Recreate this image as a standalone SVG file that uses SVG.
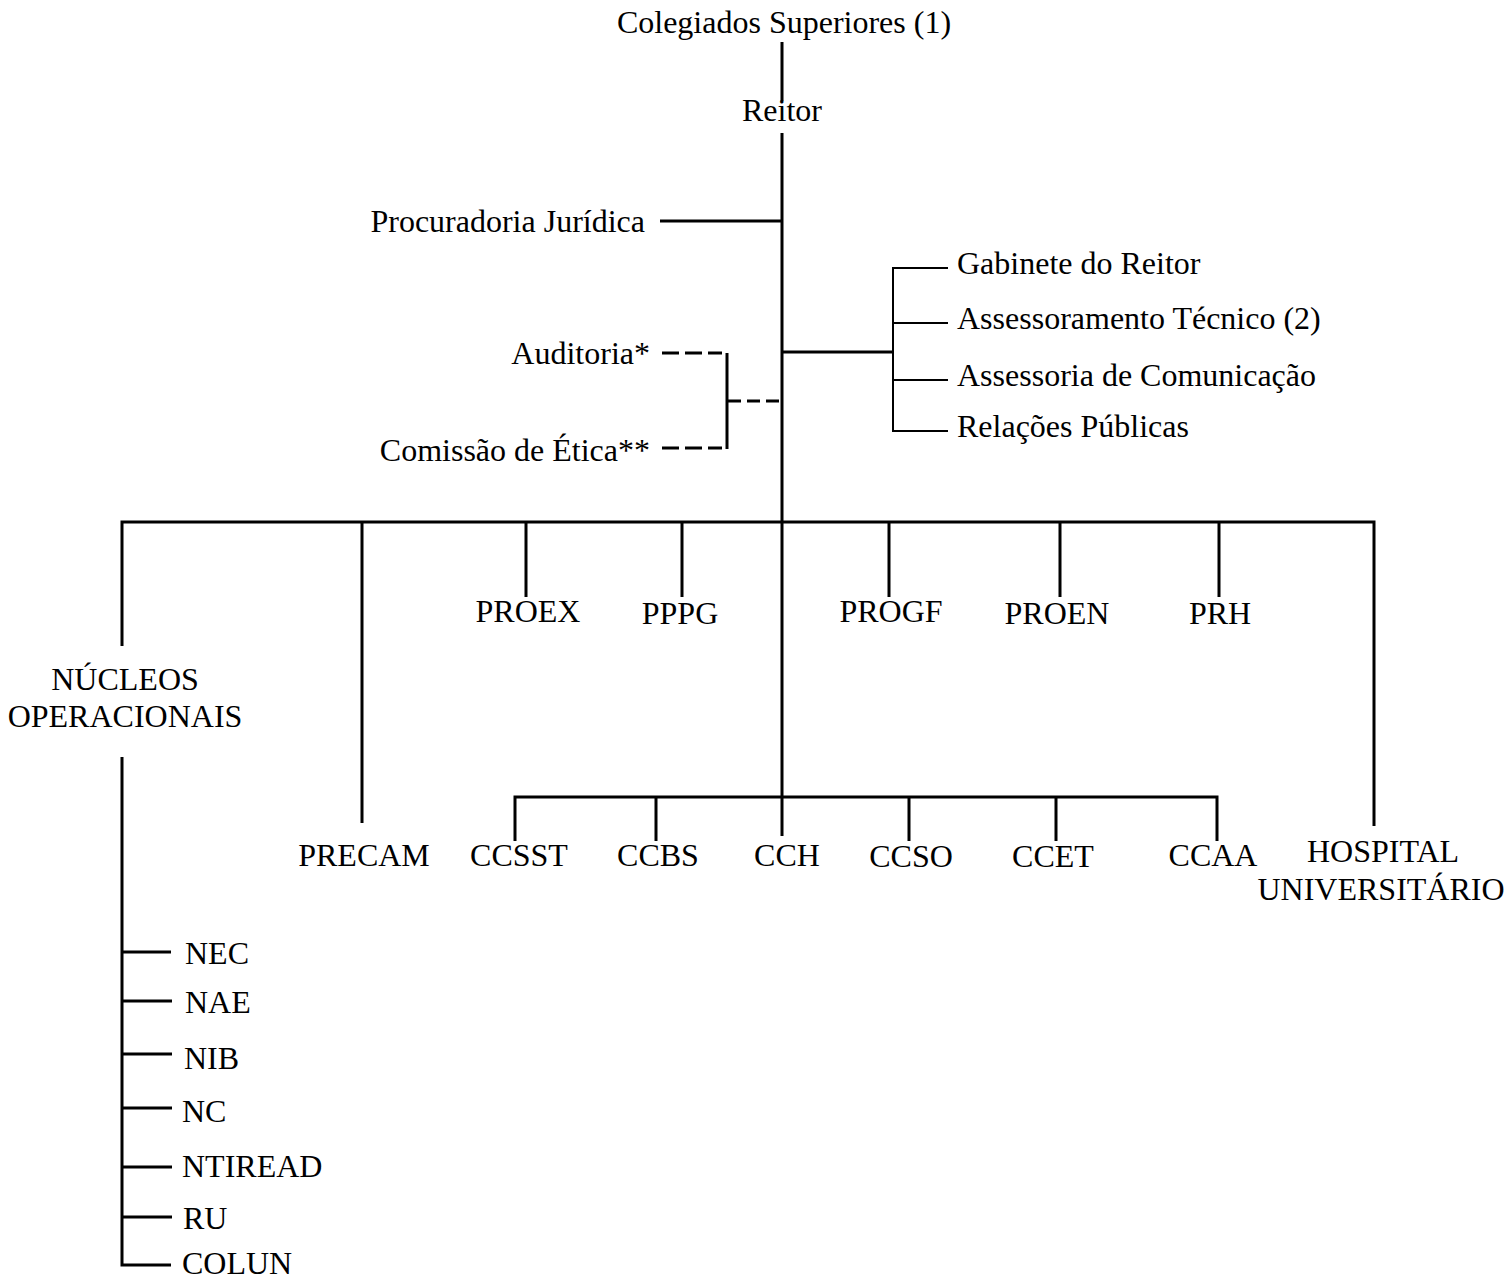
<svg xmlns="http://www.w3.org/2000/svg" width="1508" height="1282" viewBox="0 0 1508 1282">
<style>
text{font-family:"Liberation Serif","Times New Roman",serif;font-size:32px;fill:#000}
.c{text-anchor:middle}
.e{text-anchor:end}
.ln{stroke:#000;stroke-width:3;fill:none}
.th{stroke:#000;stroke-width:2;fill:none}
.d1{stroke:#000;stroke-width:3;fill:none;stroke-dasharray:17 6}
.d2{stroke:#000;stroke-width:3;fill:none;stroke-dasharray:13 6}
</style>
<rect width="1508" height="1282" fill="#fff"/>
<g id="connectors">
<path class="ln" d="M782 42V101M782 133V836"/>
<path class="ln" d="M660 221H782"/>
<path class="d1" d="M662 353H722M662 448H722"/>
<path class="ln" d="M727 353V449"/>
<path class="d2" d="M728 401H780"/>
<path class="ln" d="M782 352H894"/>
<path class="th" d="M948 268H893V431H948M893 323H948M893 380H948"/>
<path class="ln" d="M122 646V522H1374V826"/>
<path class="ln" d="M362 522V823M526 522V597M682 522V597M889 522V597M1060 522V597M1219 522V597"/>
<path class="ln" d="M515 841V797H1217V841M656 797V841M909 797V841M1056 797V841"/>
<path class="ln" d="M122 757V1265H171M122 952H171M122 1001H172M122 1054H172M122 1108H172M122 1167H172M122 1217H172"/>
</g>
<g id="colegiados"><text class="c" x="784" y="33">Colegiados Superiores (1)</text></g>
<g id="reitor"><text class="c" x="782" y="121">Reitor</text></g>
<g id="procuradoria"><text class="e" x="645" y="232">Procuradoria Jurídica</text></g>
<g id="auditoria"><text class="e" x="650" y="364">Auditoria*</text></g>
<g id="comissao"><text class="e" x="650" y="461">Comissão de Ética**</text></g>
<g id="gabinete"><text x="957" y="274">Gabinete do Reitor</text></g>
<g id="assessoramento"><text x="957" y="329">Assessoramento Técnico (2)</text></g>
<g id="assessoria"><text x="957" y="386">Assessoria de Comunicação</text></g>
<g id="relacoes"><text x="957" y="437">Relações Públicas</text></g>
<g id="nucleos"><text class="c" x="125" y="690">NÚCLEOS</text><text class="c" x="125" y="727">OPERACIONAIS</text></g>
<g id="proex"><text class="c" x="528" y="622">PROEX</text></g>
<g id="pppg"><text class="c" x="680" y="624">PPPG</text></g>
<g id="progf"><text class="c" x="891" y="622">PROGF</text></g>
<g id="proen"><text class="c" x="1057" y="624">PROEN</text></g>
<g id="prh"><text class="c" x="1220" y="624">PRH</text></g>
<g id="precam"><text class="c" x="364" y="866">PRECAM</text></g>
<g id="ccsst"><text class="c" x="519" y="866">CCSST</text></g>
<g id="ccbs"><text class="c" x="658" y="866">CCBS</text></g>
<g id="cch"><text class="c" x="787" y="866">CCH</text></g>
<g id="ccso"><text class="c" x="911" y="867">CCSO</text></g>
<g id="ccet"><text class="c" x="1053" y="867">CCET</text></g>
<g id="ccaa"><text class="c" x="1213" y="866">CCAA</text></g>
<g id="hospital"><text class="c" x="1383" y="862">HOSPITAL</text><text class="c" x="1381" y="900">UNIVERSITÁRIO</text></g>
<g id="nec"><text x="185" y="964">NEC</text></g>
<g id="nae"><text x="185" y="1013">NAE</text></g>
<g id="nib"><text x="184" y="1069">NIB</text></g>
<g id="nc"><text x="182" y="1122">NC</text></g>
<g id="ntiread"><text x="182" y="1177">NTIREAD</text></g>
<g id="ru"><text x="183" y="1229">RU</text></g>
<g id="colun"><text x="182" y="1274">COLUN</text></g>
</svg>
